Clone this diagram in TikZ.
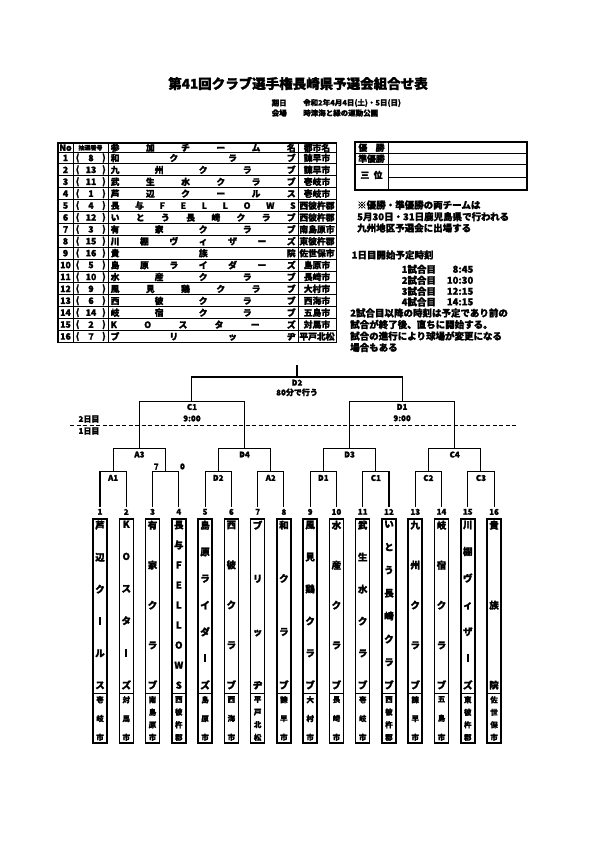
\documentclass[tikz,border=0pt]{standalone}
\usepackage{fontspec}
\setmainfont{Noto Sans CJK JP}[BoldFeatures={FakeBold=1.5}]
\usetikzlibrary{positioning}

% spread the characters of a word over a width / a height
\def\yokoFirst#1{#1\yokoNext}
\def\yokoNext#1{\ifx#1\relax\else\hfill#1\expandafter\yokoNext\fi}
\newcommand\yoko[2]{\hbox to #1{\expandafter\yokoFirst#2\relax}}
\def\tateW{14pt}
\def\tateFirst#1{\hbox to \tateW{\hss#1\hss}\tateNext}
\def\tateNext#1{\ifx#1\relax\else\vfill\hbox to \tateW{\hss#1\hss}\expandafter\tateNext\fi}
\newcommand\tate[2]{\vbox to #1{\expandafter\tateFirst#2\relax}}
\newcommand\chobar{\rule[-0.3pt]{1.6pt}{8pt}}

\begin{document}
\begin{tikzpicture}[
    x=1pt, y=-1pt,
    every node/.style={inner sep=0pt},
    ttl/.style={font=\fontsize{13.5}{14}\selectfont\bfseries},
    sml/.style={font=\fontsize{7.5}{8}\selectfont\bfseries},
    tbl/.style={font=\fontsize{8.8}{9}\selectfont\bfseries},
    nte/.style={font=\fontsize{9.5}{10}\selectfont\bfseries, anchor=west},
    lbl/.style={font=\fontsize{8}{8}\selectfont\bfseries},
    tline/.style={line width=0.9pt},
    brk/.style={line width=1.1pt},
    namebox/.style={draw, line width=1.5pt}
]
\useasboundingbox (0,0) rectangle (595,842);

% Title
\node[ttl] (title) at (298,83.5) {第41回クラブ選手権長崎県予選会組合せ表};
\node[sml, anchor=west] (dateL) at (271.5,103) {期日};
\node[sml, anchor=west] (date) at (303,103) {令和2年4月4日(土)・5日(日)};
\node[sml, anchor=west] (placeL) at (271.5,113) {会場};
\node[sml, anchor=west] (place) at (303,113) {時津海と緑の運動公園};

% Entry table
\draw[line width=1.2pt] (58,143) rectangle (336.5,342.4);
\foreach \k in {0,...,15}
    \draw[tline] (58,{152+\k*11.9}) -- (336.5,{152+\k*11.9});
\foreach \xx in {73,108,298}
    \draw[tline] (\xx,143) -- (\xx,342.4);
\node[tbl] (hNo) at (65.5,147.7) {No};
\node[font=\fontsize{6}{6}\selectfont\bfseries] (hDraw) at (90.5,147.7) {抽選番号};
\node[tbl, anchor=west] (hTeam) at (110.5,147.7) {\yoko{185pt}{参加チーム名}};
\node[tbl] (hCity) at (317,147.7) {都市名};
\foreach \no/\dr/\tm/\ct in {1/8/和クラブ/諫早市, 2/13/九州クラブ/諫早市,
    3/11/武生水クラブ/壱岐市, 4/1/芦辺クールス/壱岐市, 5/4/長与FELLOWS/西彼杵郡,
    6/12/いとう長崎クラブ/西彼杵郡, 7/3/有家クラブ/南島原市, 8/15/川棚ヴィザーズ/東彼杵郡,
    9/16/貴族院/佐世保市, 10/5/島原ライダーズ/島原市, 11/10/水産クラブ/長崎市,
    12/9/風見鶏クラブ/大村市, 13/6/西彼クラブ/西海市, 14/14/岐宿クラブ/五島市,
    15/2/KOスターズ/対馬市, 16/7/ブリッヂ/平戸北松} {
    \node[tbl] (no\no) at (65.5,{146.05+\no*11.9}) {\no};
    \node[tbl] (lp\no) at (77.5,{146.05+\no*11.9}) {(};
    \node[tbl] (dr\no) at (91,{146.05+\no*11.9}) {\dr};
    \node[tbl] (rp\no) at (104,{146.05+\no*11.9}) {)};
    \node[tbl, anchor=west] (tm\no) at (110.5,{146.05+\no*11.9}) {\yoko{185pt}{\tm}};
    \node[tbl] (ct\no) at (317,{146.05+\no*11.9}) {\ct};
}

% Result box
\draw[line width=1.2pt] (355,142) rectangle (527,190);
\draw[tline] (388,142) -- (388,190);
\draw[tline] (355,153) -- (527,153);
\draw[tline] (355,164) -- (527,164);
\draw[tline] (388,177) -- (527,177);
\node[tbl] (win) at (371.5,147.7) {\yoko{26pt}{優勝}};
\node[tbl] (second) at (371.5,158.7) {準優勝};
\node[tbl] (third) at (371.5,175) {\yoko{22pt}{三位}};

% Notes
\node[nte] (note1) at (357,205) {※優勝・準優勝の両チームは};
\node[nte] (note2) at (357,216.7) {5月30日・31日鹿児島県で行われる};
\node[nte] (note3) at (357,228) {九州地区予選会に出場する};
\node[nte] (start) at (351.5,255) {1日目開始予定時刻};
\foreach \g/\tt/\yy in {1/8:45/269.3, 2/10:30/280.3, 3/12:15/291.3, 4/14:15/302} {
    \node[nte] (game\g) at (401.5,\yy) {\g 試合目};
    \node[nte, anchor=east] (time\g) at (473.5,\yy) {\tt};
}
\node[nte] (rem1) at (350,313) {2試合目以降の時刻は予定であり前の};
\node[nte] (rem2) at (350,324.5) {試合が終了後、直ちに開始する。};
\node[nte] (rem3) at (350,336) {試合の進行により球場が変更になる};
\node[nte] (rem4) at (350,347.5) {場合もある};

% Bracket points
\foreach \i in {1,...,16}
    \coordinate (t\i) at ({100+(\i-1)*26.27},506.7);
\foreach \j in {1,...,8}
    \coordinate (r\j) at ({100+(2*\j-1.5)*26.27},471.7);
\foreach \j in {1,...,4}
    \coordinate (q\j) at ({100+(4*\j-2.5)*26.27},448.3);
\foreach \j in {1,2}
    \coordinate (s\j) at ({100+(8*\j-4.5)*26.27},401.7);
\coordinate (f) at ({100+7.5*26.27},377);
\coordinate (top) at ({100+7.5*26.27},365);

% Bracket lines
\foreach \j [evaluate=\j as \a using int(2*\j-1), evaluate=\j as \b using int(2*\j)] in {1,...,8}
    \draw[brk] (t\a) |- (r\j) -| (t\b);
\foreach \j [evaluate=\j as \a using int(2*\j-1), evaluate=\j as \b using int(2*\j)] in {1,...,4}
    \draw[brk] (r\a) |- (q\j) -| (r\b);
\foreach \j [evaluate=\j as \a using int(2*\j-1), evaluate=\j as \b using int(2*\j)] in {1,2}
    \draw[brk] (q\a) |- (s\j) -| (q\b);
\draw[brk] (s1) |- (f) -| (s2);
\draw[brk] (f) -- (top);

% Match labels
\foreach \j/\lab in {1/A1, 3/D2, 4/A2, 5/D1, 6/C1, 7/C2, 8/C3}
    \node[lbl, below=3pt of r\j] (m\j) {\lab};
\node[lbl, anchor=south west] (sc3) at ([xshift=1pt, yshift=2pt]t3 |- r2) {7};
\node[lbl, anchor=south west] (sc4) at ([xshift=1pt, yshift=2pt]t4 |- r2) {0};
\foreach \j/\lab in {1/A3, 2/D4, 3/D3, 4/C4}
    \node[lbl, below=3pt of q\j] (qm\j) {\lab};
\foreach \j/\lab in {1/C1, 2/D1} {
    \node[lbl, below=2pt of s\j] (sm\j) {\lab};
    \node[lbl, below=5pt of sm\j] (st\j) {9:00};
}
\node[lbl, below=2.5pt of f] (fm) {D2};
\node[lbl, below=2.5pt of fm] (ft) {80分で行う};

% Day split
\draw[line width=1.2pt, dash pattern=on 4pt off 2.5pt] (70,425.3) -- (517,425.3);
\node[lbl] (day2) at (89,419) {2日目};
\node[lbl] (day1) at (89,431) {1日目};

% Team boxes
\foreach \nm/\ct [count=\i] in {芦辺ク\chobar ルス/壱岐市, KOスタ\chobar ズ/対馬市, 有家クラブ/南島原市,
    長与FELLOWS/西彼杵郡, 島原ライダ\chobar ズ/島原市, 西彼クラブ/西海市, ブリッヂ/平戸北松,
    和クラブ/諫早市, 風見鶏クラブ/大村市, 水産クラブ/長崎市, 武生水クラブ/壱岐市,
    いとう長崎クラブ/西彼杵郡, 九州クラブ/諫早市, 岐宿クラブ/五島市,
    川棚ヴィザ\chobar ズ/東彼杵郡, 貴族院/佐世保市} {
    \pgfmathsetmacro\xx{100+(\i-1)*26.27}
    \node[lbl, below=2pt of t\i] (n\i) {\i};
    \draw[namebox] (\xx-7,519) rectangle (\xx+7,743);
    \draw[line width=1pt] (\xx-7,693) -- (\xx+7,693);
    \node[font=\fontsize{9.5}{10}\selectfont\bfseries, anchor=north] (nm\i) at (\xx,520.5) {\tate{168pt}{\nm}};
    \node[sml, anchor=north] (cy\i) at (\xx,696) {\tate{44pt}{\ct}};
}
\end{tikzpicture}
\end{document}
